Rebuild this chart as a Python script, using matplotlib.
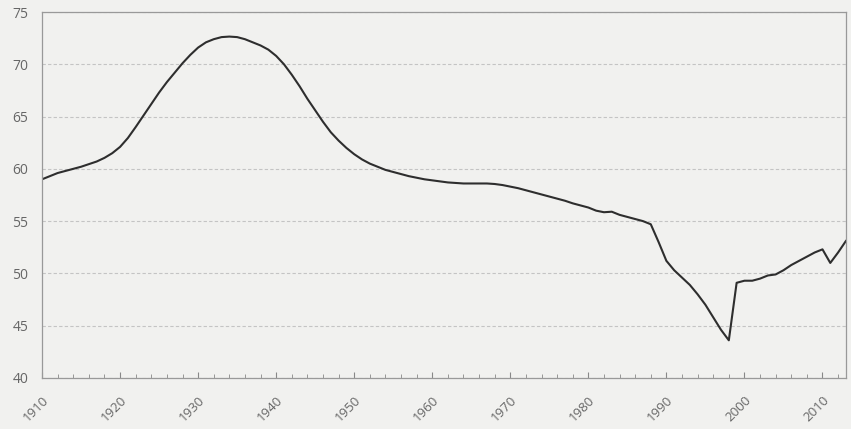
import matplotlib
matplotlib.use("Agg")
import matplotlib.pyplot as plt
from matplotlib.ticker import MultipleLocator

years = list(range(1910, 2014))
values = [
    59.0, 59.3, 59.6, 59.8, 60.0, 60.2, 60.45, 60.7, 61.05, 61.5,   # 1910-1919
    62.1, 62.95, 64.0, 65.1, 66.2, 67.3, 68.3, 69.2, 70.1, 70.9,   # 1920-1929
    71.6, 72.1, 72.4, 72.6, 72.65, 72.6, 72.4, 72.1, 71.8, 71.4,   # 1930-1939
    70.8, 70.0, 69.0, 67.9, 66.7, 65.6, 64.5, 63.5, 62.7, 62.0,   # 1940-1949
    61.4, 60.9, 60.5, 60.2, 59.9, 59.7, 59.5, 59.3, 59.15, 59.0,  # 1950-1959
    58.9, 58.8, 58.7, 58.65, 58.6, 58.6, 58.6, 58.6, 58.55, 58.45,  # 1960-1969
    58.3, 58.15, 57.95, 57.75, 57.55, 57.35, 57.15, 56.95, 56.7, 56.5,  # 1970-1979
    56.3, 56.0, 55.85, 55.9, 55.6, 55.4, 55.2, 55.0, 54.7, 53.0,  # 1980-1989
    51.2, 50.3, 49.6, 48.9, 48.0, 47.0, 45.8, 44.6, 43.6, 49.1,   # 1990-1999
    49.3, 49.3, 49.5, 49.8, 49.9, 50.3, 50.8, 51.2, 51.6, 52.0,   # 2000-2009
    52.3, 51.0, 52.0, 53.1,                                       # 2010-2013
]
y_ticks = [40, 45, 50, 55, 60, 65, 70, 75]
x_tick_labels = list(range(1910, 2011, 10))

plt.rcParams['font.family'] = ['Open Sans', 'DejaVu Sans']

bg = '#f1f1ef'
fig = plt.figure(figsize=(8.51, 4.29), dpi=100, facecolor=bg)
ax = fig.add_axes([0.0494, 0.119, 0.9446, 0.853])
ax.set_facecolor(bg)

ax.plot(years, values, color='#2e2e2e', lw=1.5, solid_joinstyle='round')

ax.set_ylim(40, 75)
ax.set_xlim(1910, 2013)
ax.set_yticks(y_ticks)
ax.set_xticks(x_tick_labels)
ax.set_xticklabels([str(v) for v in x_tick_labels], rotation=45, ha='right',
                   rotation_mode='anchor', fontsize=9.5, color='#666666')
ax.set_yticklabels([str(v) for v in y_ticks], fontsize=10, color='#666666')
ax.xaxis.set_minor_locator(MultipleLocator(2))
ax.tick_params(axis='x', which='major', direction='in', length=4, color='#888888', pad=11)
ax.tick_params(axis='x', which='minor', direction='in', length=3, color='#888888')
ax.tick_params(axis='y', length=0, pad=10)

ax.grid(axis='y', color='#c4c4c4', linestyle=(0, (3, 2)), linewidth=0.8)
for s in ax.spines.values():
    s.set_color('#999999')
    s.set_linewidth(0.9)

fig.savefig('out.png', dpi=100, facecolor=bg)
